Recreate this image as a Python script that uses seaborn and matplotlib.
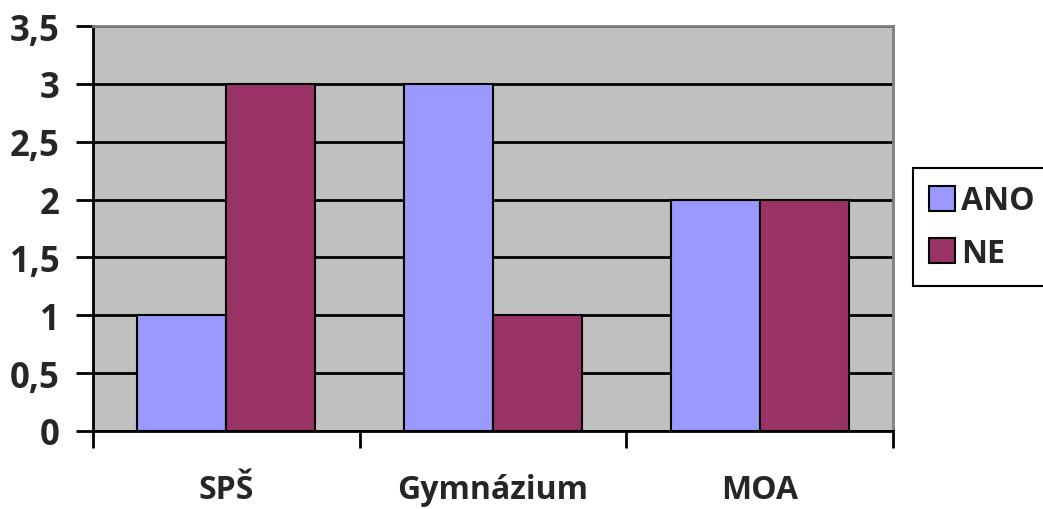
import matplotlib.pyplot as plt
import pandas as pd
import seaborn as sns
from matplotlib.ticker import FixedLocator, FuncFormatter

sns.set_theme(style="white")
plt.rcParams['font.family'] = ['Open Sans', 'DejaVu Sans']
plt.rcParams['font.weight'] = 'bold'

schools = ["SPŠ", "Gymnázium", "MOA"]
ano = [1, 3, 2]
ne = [3, 1, 2]

df = pd.DataFrame({'Škola': schools, 'ANO': ano, 'NE': ne})
df_melted = df.melt(id_vars='Škola', var_name='Odpověď', value_name='Počet')

fig = plt.figure(figsize=(10.43, 5.10), dpi=100)
ax = fig.add_axes([93 / 1043, 78 / 510, 800 / 1043, 405 / 510])
ax.set_facecolor('#C0C0C0')

sns.barplot(data=df_melted, x='Škola', y='Počet', hue='Odpověď',
            palette=['#9999FF', '#993366'], width=0.667,
            edgecolor='black', linewidth=1.5, saturation=1, ax=ax, zorder=3)

ax.set_xlim(-0.5, 2.5)
ax.set_ylim(0, 3.5)
ax.set_yticks([i * 0.5 for i in range(8)])
ax.yaxis.set_major_formatter(FuncFormatter(lambda v, p: f"{v:g}".replace('.', ',')))
ax.grid(axis='y', color='black', linewidth=2, zorder=1)
ax.set_axisbelow(True)

for side in ['left', 'bottom']:
    ax.spines[side].set_color('black')
    ax.spines[side].set_linewidth(2)
for side in ['top', 'right']:
    ax.spines[side].set_color('#808080')
    ax.spines[side].set_linewidth(2)

ax.tick_params(axis='y', which='major', direction='out', length=12, width=2,
               color='black', labelsize=25, left=True, pad=12)
ax.xaxis.set_minor_locator(FixedLocator([-0.5, 0.5, 1.5, 2.5]))
ax.tick_params(axis='x', which='minor', direction='out', length=12, width=2,
               color='black', bottom=True)
ax.tick_params(axis='x', which='major', length=0, labelsize=23, pad=30)

for lab in ax.get_xticklabels() + ax.get_yticklabels():
    lab.set_fontweight('bold')

ax.set_xlabel('')
ax.set_ylabel('')

ax.legend(loc='center left', bbox_to_anchor=(913 / 1043, 282 / 510),
          bbox_transform=fig.transFigure, frameon=True, borderaxespad=0,
          fancybox=False, edgecolor='black', framealpha=1,
          handlelength=0.8, handleheight=0.8, handletextpad=0.2,
          labelspacing=0.6, borderpad=0.5, prop={'weight': 'bold', 'size': 23})
ax.get_legend().get_frame().set_linewidth(1.5)

fig.savefig('out.png', dpi=100)
